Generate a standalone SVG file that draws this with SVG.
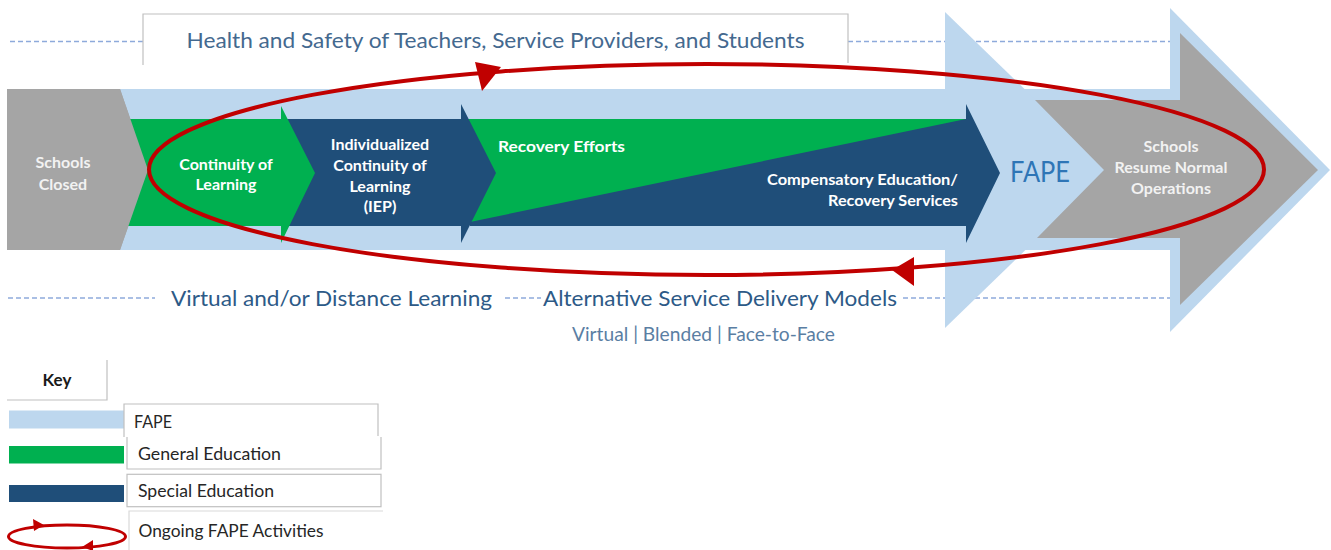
<svg xmlns="http://www.w3.org/2000/svg" width="1331" height="550" viewBox="0 0 1331 550">
<defs>
<style>
.dash{stroke:#8eaadb;stroke-width:1.5;stroke-dasharray:5 3;fill:none}
.lb{fill:#bdd7ee}
.gr{fill:#a5a5a5}
.ge{fill:#00b050}
.se{fill:#1f4e79}
.wt{font-family:Lato,"Liberation Sans",sans-serif;font-weight:bold;font-size:16px;fill:#ffffff;text-anchor:middle}
.gt{font-family:Lato,"Liberation Sans",sans-serif;font-weight:bold;font-size:16px;fill:#f2f2f2;text-anchor:middle}
.hd{font-family:Lato,"Liberation Sans",sans-serif;font-size:22px;fill:#44698f}
.bl{font-family:Lato,"Liberation Sans",sans-serif;font-size:22px;fill:#2d5a87}
.sm{font-family:Lato,"Liberation Sans",sans-serif;font-size:19px;fill:#5a7ea3}
.kt{font-family:Lato,"Liberation Sans",sans-serif;font-size:17px;fill:#262626}
.box{fill:#ffffff;stroke:#c0c0c0;stroke-width:1.2}
.red{fill:none;stroke:#c00000;stroke-width:4}
.rh{fill:#c00000}
</style>
</defs>
<rect width="1331" height="550" fill="#ffffff"/>

<g id="guides">
<path class="dash" d="M10 41.5 H143 M848 41.5 H1170"/>
<path class="dash" d="M8 298 H155 M505 298 H541 M903 298 H1170"/>
</g>

<g id="health-box">
<rect x="143" y="14" width="705" height="51" fill="#ffffff"/>
<path d="M143 65 V14 H848 V63" fill="none" stroke="#c0c0c0" stroke-width="1.2"/>
<text class="hd" x="495.5" y="48" text-anchor="middle" textLength="618" lengthAdjust="spacingAndGlyphs">Health and Safety of Teachers, Service Providers, and Students</text>
</g>

<g id="fape-band">
<rect class="lb" x="118" y="89" width="1054" height="161"/>
<polygon class="lb" points="945,12 1108,170 945,328"/>
<polygon class="lb" points="1170,8 1330,170 1170,332"/>
</g>

<g id="schools-closed">
<polygon class="gr" points="7,89 120,89 148,170 120,250 7,250"/>
<text class="gt" x="63" y="168">Schools</text>
<text class="gt" x="63" y="190">Closed</text>
</g>

<g id="compensatory">
<polygon class="se" points="470,119 966,119 966,104 1000,173 966,243 966,226 470,226"/>
<polygon class="ge" points="468,119 966,119 470,222"/>
<text class="wt" x="498" y="152" text-anchor="start" style="text-anchor:start" textLength="127" lengthAdjust="spacingAndGlyphs">Recovery Efforts</text>
<text class="wt" x="958" y="185" style="text-anchor:end" textLength="191" lengthAdjust="spacingAndGlyphs">Compensatory Education/</text>
<text class="wt" x="958" y="206" style="text-anchor:end" textLength="130" lengthAdjust="spacingAndGlyphs">Recovery Services</text>
</g>

<g id="iep">
<polygon class="se" points="285,119 461,119 461,104 496,173 461,243 461,226 285,226"/>
<text class="wt" x="380" y="150">Individualized</text>
<text class="wt" x="380" y="171">Continuity of</text>
<text class="wt" x="380" y="192">Learning</text>
<text class="wt" x="380" y="212">(IEP)</text>
</g>

<g id="continuity">
<polygon class="ge" points="125,119 281,119 281,106 315,173 281,243 281,226 125,226"/>
<polygon class="gr" points="118,89 120,89 148,170 120,250 118,250"/>
<text class="wt" x="226" y="170">Continuity of</text>
<text class="wt" x="226" y="190">Learning</text>
</g>

<g id="fape-label">
<text x="1040" y="182" font-family="Lato, 'Liberation Sans', sans-serif" font-size="28" fill="#2e75b6" text-anchor="middle" textLength="60" lengthAdjust="spacingAndGlyphs">FAPE</text>
</g>

<g id="schools-resume">
<polygon class="gr" points="1035,100 1180,100 1180,33 1318,170 1180,305 1180,238 1037,238 1104,170"/>
<text class="gt" x="1171" y="152">Schools</text>
<text class="gt" x="1171" y="173">Resume Normal</text>
<text class="gt" x="1171" y="194">Operations</text>
</g>

<g id="delivery-labels">
<text class="bl" x="171" y="306" textLength="321" lengthAdjust="spacingAndGlyphs">Virtual and/or Distance Learning</text>
<text class="bl" x="543" y="306" textLength="354" lengthAdjust="spacingAndGlyphs">Alternative Service Delivery Models</text>
<text class="sm" x="572" y="341" textLength="263" lengthAdjust="spacingAndGlyphs">Virtual | Blended | Face-to-Face</text>
</g>

<g id="connectors">
<ellipse class="red" cx="706.5" cy="169.5" rx="557.5" ry="105.5"/>
<polygon class="rh" points="475,62 501,67 482,91"/>
<polygon class="rh" points="914,257 892,270 914,286"/>
</g>

<g id="key">
<path d="M7 400 H107 V360" fill="none" stroke="#c0c0c0" stroke-width="1.2"/>
<text x="57" y="386" font-family="Lato, 'Liberation Sans', sans-serif" font-size="17" font-weight="bold" fill="#1a1a1a" text-anchor="middle">Key</text>
</g>

<g id="key-fape">
<rect class="lb" x="9" y="410.5" width="115" height="18"/>
<path d="M124 437 V404 H378 V436" fill="#ffffff" stroke="#c0c0c0" stroke-width="1.2"/>
<text class="kt" x="134" y="428" textLength="38" lengthAdjust="spacingAndGlyphs">FAPE</text>
</g>

<g id="key-general">
<rect class="ge" x="9" y="446" width="115" height="17.5"/>
<path d="M127 437 V469 H381 V437" fill="#ffffff" stroke="#c0c0c0" stroke-width="1.2"/>
<text class="kt" x="138" y="460" textLength="143" lengthAdjust="spacingAndGlyphs">General Education</text>
</g>

<g id="key-special">
<rect class="se" x="9" y="485" width="115" height="17"/>
<rect class="box" x="127" y="474.3" width="254" height="32.4"/>
<text class="kt" x="138" y="497" textLength="136" lengthAdjust="spacingAndGlyphs">Special Education</text>
</g>

<g id="key-ongoing">
<ellipse cx="67" cy="536.5" rx="58.5" ry="11.5" fill="none" stroke="#c00000" stroke-width="3"/>
<polygon class="rh" points="33,519 44,525 34,531"/>
<polygon class="rh" points="93,540 82,547 93,551"/>
<path d="M129 550 V511 H383" fill="none" stroke="#d9d9d9" stroke-width="1.2"/>
<text class="kt" x="138.5" y="537" textLength="185" lengthAdjust="spacingAndGlyphs">Ongoing FAPE Activities</text>
</g>
</svg>
